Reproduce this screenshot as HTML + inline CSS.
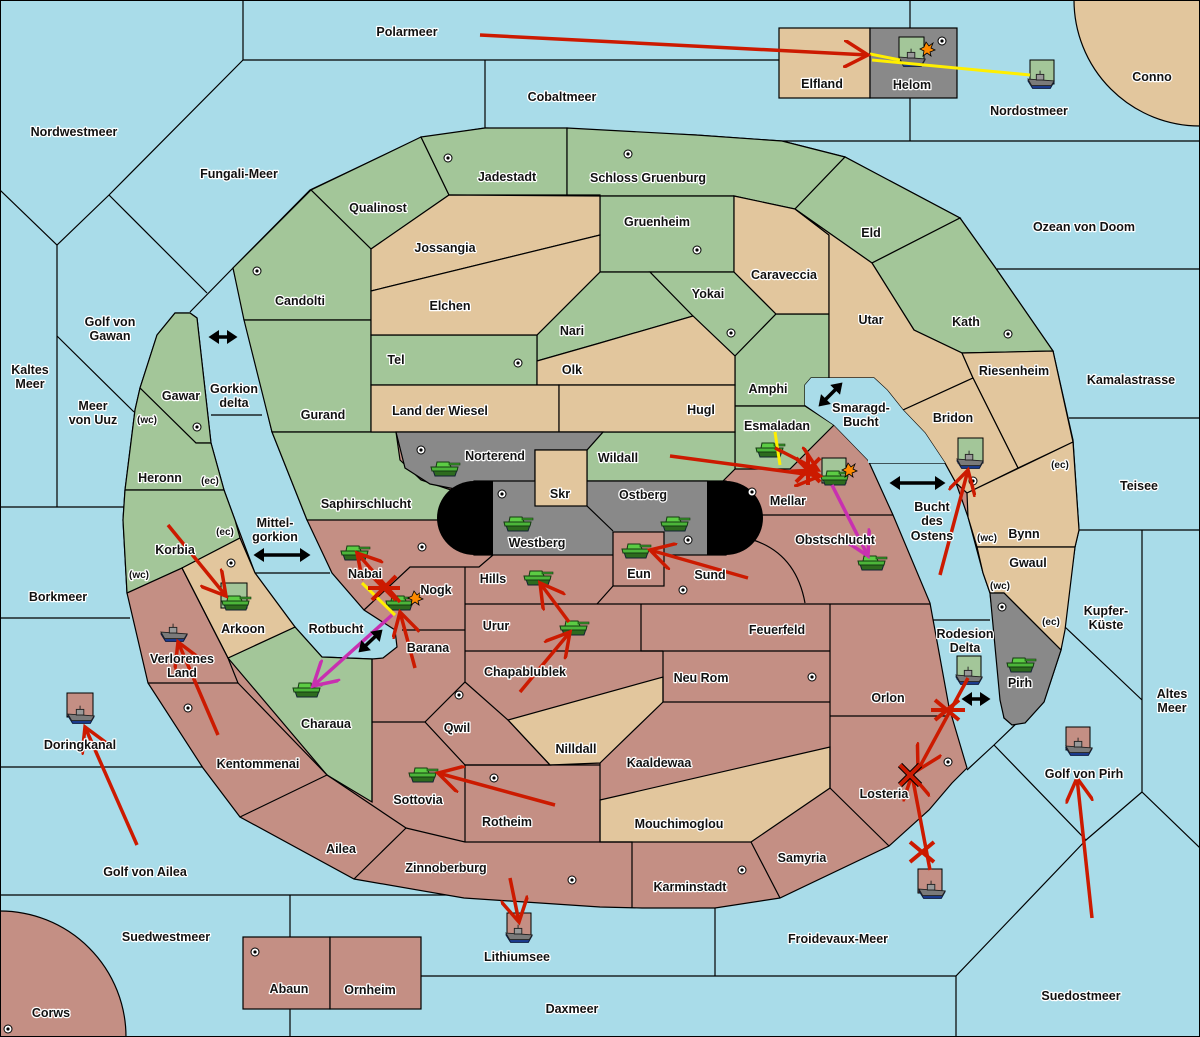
<!DOCTYPE html>
<html><head><meta charset="utf-8"><style>
html,body{margin:0;padding:0;background:#a9dce9;width:1200px;height:1037px;overflow:hidden}
svg{display:block}
text{font-family:"Liberation Sans",sans-serif;font-weight:bold;font-size:12.5px;fill:#111;stroke:#fff;stroke-width:2.5px;paint-order:stroke;stroke-linejoin:round;text-anchor:middle}
.l{fill:none;stroke:#000;stroke-width:1.2}
.g{fill:#a3c699;stroke:#000;stroke-width:1.2}
.t{fill:#e2c69d;stroke:#000;stroke-width:1.2}
.r{fill:#c48f84;stroke:#000;stroke-width:1.2}
.y{fill:#898989;stroke:#000;stroke-width:1.2}
.s{fill:#a9dce9;stroke:#000;stroke-width:1.2}
.ar{stroke:#cc1a00;stroke-width:3.5;fill:none;marker-end:url(#vr)}
.am{stroke:#c830b0;stroke-width:3.5;fill:none;marker-end:url(#vm)}
.ay{stroke:#ffef00;stroke-width:3;fill:none}
.ab{stroke:#000;stroke-width:3.5;fill:none;marker-end:url(#vb);marker-start:url(#vbs)}
</style></head><body>
<svg width="1200" height="1037" viewBox="0 0 1200 1037" xmlns="http://www.w3.org/2000/svg">
<defs>
<marker id="vr" markerWidth="8" markerHeight="8" refX="7" refY="4" orient="auto" markerUnits="strokeWidth"><path d="M0,0 L7,4 L0,8" fill="none" stroke="#cc1a00" stroke-width="1"/></marker>
<marker id="vm" markerWidth="8" markerHeight="8" refX="7" refY="4" orient="auto" markerUnits="strokeWidth"><path d="M0,0 L7,4 L0,8" fill="none" stroke="#c830b0" stroke-width="1"/></marker>
<marker id="vb" markerWidth="4" markerHeight="4" refX="2" refY="2" orient="auto" markerUnits="strokeWidth"><path d="M0,0 L3,2 L0,4z" fill="#000"/></marker>
<marker id="vbs" markerWidth="4" markerHeight="4" refX="1" refY="2" orient="auto" markerUnits="strokeWidth"><path d="M3,0 L0,2 L3,4z" fill="#000"/></marker>
<symbol id="tank" viewBox="0 0 30 18" overflow="visible"><path d="M3,11 L27,11 L25,17 L5,17z" fill="#2d6b1e" stroke="#123" stroke-width="1"/><path d="M1,8 L28,8 L27,12 L2,12z" fill="#4cb53a" stroke="#143a10" stroke-width="1"/><path d="M7,3 L19,3 L21,8 L6,8z" fill="#5ccc44" stroke="#143a10" stroke-width="1"/><rect x="19" y="4" width="11" height="2" fill="#3a9a2c" stroke="#143a10" stroke-width=".6"/></symbol>
<symbol id="ship" viewBox="0 0 30 20" overflow="visible"><path d="M1,11 L29,12 L25,19 L6,19z" fill="#1c3f9a" stroke="#0a1a40"/><path d="M1,9 L29,11 L26,16 L5,16z" fill="#7a7a7a" stroke="#222"/><rect x="10" y="4" width="8" height="6" fill="#999" stroke="#222"/><line x1="14" y1="0" x2="14" y2="4" stroke="#222"/></symbol>
</defs>
<rect width="1200" height="1037" fill="#a9dce9"/>
<g class="l">
<polyline points="243,0 243,60 779,60"/><line x1="485" y1="60" x2="485" y2="128"/>
<polyline points="243,60 109,195 57,245 0,190"/><line x1="57" y1="245" x2="57" y2="507"/><line x1="0" y1="507" x2="125" y2="507"/>
<line x1="109" y1="195" x2="207" y2="293"/><line x1="57" y1="336" x2="134" y2="412"/><polyline points="233,268 190,312"/>
<line x1="910" y1="0" x2="910" y2="28"/><polyline points="910,98 910,141"/><line x1="782" y1="141" x2="1200" y2="141"/>
<line x1="997" y1="269" x2="1200" y2="269"/><line x1="1069" y1="418" x2="1200" y2="418"/><line x1="1078" y1="530" x2="1200" y2="530"/>
<line x1="1142" y1="530" x2="1142" y2="792"/><polyline points="1065,627 1142,700"/><polyline points="1142,792 1200,848"/>
<polyline points="1020,720 994,745 967,770"/><polyline points="994,745 1086,840 1142,792"/><polyline points="1086,840 956,976 956,1037"/>
<line x1="715" y1="908" x2="715" y2="976"/><line x1="421" y1="976" x2="956" y2="976"/>
<line x1="933" y1="620" x2="990" y2="620"/><line x1="868" y1="463" x2="945" y2="463"/>
<line x1="0" y1="618" x2="130" y2="618"/><line x1="0" y1="767" x2="203" y2="767"/><line x1="0" y1="895" x2="470" y2="895"/>
<line x1="290" y1="895" x2="290" y2="937"/><line x1="290" y1="1009" x2="290" y2="1037"/><line x1="255" y1="573" x2="330" y2="573"/><line x1="211" y1="415" x2="262" y2="415"/>
</g>
<circle cx="1200" cy="0" r="126" class="t"/>
<circle cx="0" cy="1037" r="126" class="r"/>
<rect x="779" y="28" width="91" height="70" class="t"/><rect x="870" y="28" width="87" height="70" class="y"/>
<rect x="243" y="937" width="87" height="72" class="r"/><rect x="330" y="937" width="91" height="72" class="r"/>
<path class="r" d="M233,268 L310,190 L420,138 L485,128 L600,131 L696,135 L782,141 L845,157 L960,218 L997,270 L1053,351 L1073,440 L1079,530 L1075,547 L1061,650 L1044,702 L1025,723 L1004,718 L990,593 L983,573 L968,517 L956,483 L945,463 L925,433 L903,410 L887,390 L874,378 L811,378 L805,385 L805,405 L834,425 L868,460 L893,515 L930,603 L949,707 L967,768 L952,783 L929,810 L889,846 L780,898 L715,908 L642,908 L600,907 L464,898 L354,879 L240,817 L203,768 L148,683 L127,593 L123,520 L125,490 L135,410 L140,388 L157,335 L175,313 L190,313 L197,318 L211,443 L224,490 L235,520 L255,573 L295,627 L322,657 L372,659 L383,658 L397,647 L395,630 L364,610 L332,573 L307,520 L272,432 Z"/>
<path class="g" d="M311,190 L421,137 L449,195 L371,249 Z"/>
<path class="g" d="M421,137 L485,128 L567,128 L567,195 L449,195 Z"/>
<path class="g" d="M567,128 L696,135 L782,141 L845,157 L795,209 L734,196 L600,196 L600,195 L567,195 Z"/>
<path class="g" d="M600,196 L734,196 L734,272 L600,272 Z"/>
<path class="g" d="M845,157 L960,218 L872,263 L795,209 Z"/>
<path class="g" d="M960,218 L997,270 L1053,351 L962,353 L914,330 L872,263 Z"/>
<path class="g" d="M233,268 L311,190 L371,249 L371,320 L244,320 Z"/>
<path class="g" d="M244,320 L371,320 L371,432 L272,432 Z"/>
<path class="g" d="M272,432 L396,432 L400,460 L421,480 L460,493 L455,520 L307,520 Z"/>
<path class="g" d="M537,335 L600,272 L650,272 L693,316 L600,343 L537,361 Z"/>
<path class="g" d="M650,272 L734,272 L776,314 L735,356 L693,316 Z"/>
<path class="g" d="M371,335 L537,335 L537,385 L371,385 Z"/>
<path class="g" d="M735,356 L776,314 L829,314 L829,378 L811,378 L805,385 L805,406 L735,406 Z"/>
<path class="g" d="M735,406 L805,406 L834,425 L790,469 L735,469 Z"/>
<path class="g" d="M603,432 L735,432 L735,469 L722,482 L707,481 L587,481 L587,450 Z"/>
<path class="g" d="M175,313 L190,313 L197,318 L211,443 L196,443 L140,388 L157,335 Z"/>
<path class="g" d="M140,388 L196,443 L211,443 L224,490 L125,490 L135,410 Z"/>
<path class="g" d="M125,490 L224,490 L235,520 L240,538 L182,568 L127,593 L123,520 Z"/>
<path class="g" d="M228,658 L295,627 L322,657 L372,659 L372,802 L327,775 Z"/>
<path class="t" d="M371,249 L449,195 L600,196 L600,235 L371,291 Z"/>
<path class="t" d="M371,291 L600,235 L600,272 L537,335 L371,335 Z"/>
<path class="t" d="M537,361 L600,343 L693,316 L735,356 L735,385 L537,385 Z"/>
<path class="t" d="M734,196 L795,209 L829,235 L829,314 L776,314 L734,272 Z"/>
<path class="t" d="M795,209 L872,263 L914,330 L962,353 L973,378 L903,410 L887,390 L874,378 L829,378 L829,235 Z"/>
<path class="t" d="M962,353 L1053,351 L1073,442 L1018,468 L973,378 Z"/>
<path class="t" d="M903,410 L973,378 L1018,468 L967,493 L956,483 L945,463 L925,433 Z"/>
<path class="t" d="M967,493 L1073,442 L1079,530 L1075,547 L977,547 L968,517 Z"/>
<path class="t" d="M977,547 L1075,547 L1065,630 L1061,650 L1004,593 L990,593 L983,573 Z"/>
<path class="t" d="M371,385 L559,385 L559,432 L371,432 Z"/>
<path class="t" d="M559,385 L735,385 L735,432 L559,432 Z"/>
<path class="t" d="M182,568 L240,538 L255,573 L295,627 L228,658 Z"/>
<path class="t" d="M508,720 L663,677 L663,702 L600,763 L550,765 Z"/>
<path class="t" d="M600,800 L830,747 L830,788 L751,842 L600,842 Z"/>
<g class="l">
<polyline points="127,593 182,568 228,658 238,683 148,683"/><polyline points="238,683 327,775 240,817"/><polyline points="327,775 406,828 354,879"/>
<polyline points="406,828 465,842 632,842 632,908"/><polyline points="372,659 372,802"/><polyline points="372,722 425,722 465,765 465,842"/>
<polyline points="425,722 465,682 508,720 550,765 465,765"/><line x1="465" y1="765" x2="600" y2="765"/><polyline points="600,763 600,842"/>
<polyline points="663,702 830,702"/><polyline points="663,651 663,702"/><polyline points="641,604 641,651 830,651"/><polyline points="465,651 663,651"/>
<polyline points="465,567 465,682"/><polyline points="465,604 930,604"/><polyline points="402,630 465,630"/><polyline points="364,610 410,567 479,567 493,555"/>
<polyline points="830,604 830,788"/><polyline points="830,716 949,716"/><polyline points="751,842 780,898"/><polyline points="830,788 889,846"/>
<polyline points="745,515 893,515"/><path d="M742,537 Q795,548 805,603"/><polyline points="597,604 613,586"/>
</g>
<path class="y" d="M396,432 L603,432 L587,450 L535,450 L535,481 L493,482 L470,492 L430,484 L405,468 Z"/>
<rect x="474" y="481" width="252" height="74" class="y"/>
<path d="M493,481 L474,481 A37,37 0 0 0 474,555 L493,555 Z" fill="#000"/>
<path d="M707,481 L726,481 A37,37 0 0 1 726,555 L707,555 Z" fill="#000"/>
<line class="l" x1="587" y1="506" x2="613" y2="531"/>
<rect x="613" y="532" width="51" height="54" class="r"/>
<rect x="535" y="450" width="52" height="56" class="t"/>
<path class="y" d="M990,593 L1004,593 L1061,650 L1044,702 L1025,723 L1012,725 L1004,718 L1000,700 Z"/>
<path class="s" d="M805,405 L805,385 L811,378 L874,378 L887,390 L903,410 L925,433 L945,463 L868,463 L868,460 L834,425 Z" style="stroke:none"/>
<g fill="#fff" stroke="#000" stroke-width="1">
<circle cx="448" cy="158" r="4"/><circle cx="628" cy="154" r="4"/><circle cx="257" cy="271" r="4"/><circle cx="697" cy="250" r="4"/><circle cx="731" cy="333" r="4"/><circle cx="1008" cy="334" r="4"/><circle cx="518" cy="363" r="4"/><circle cx="197" cy="427" r="4"/><circle cx="421" cy="450" r="4"/><circle cx="502" cy="494" r="4"/><circle cx="752" cy="492" r="4"/><circle cx="973" cy="481" r="4"/><circle cx="231" cy="563" r="4"/><circle cx="422" cy="547" r="4"/><circle cx="688" cy="540" r="4"/><circle cx="683" cy="590" r="4"/><circle cx="1002" cy="607" r="4"/><circle cx="459" cy="695" r="4"/><circle cx="188" cy="708" r="4"/><circle cx="812" cy="677" r="4"/><circle cx="494" cy="778" r="4"/><circle cx="948" cy="762" r="4"/><circle cx="742" cy="870" r="4"/><circle cx="572" cy="880" r="4"/><circle cx="255" cy="952" r="4"/><circle cx="942" cy="41" r="4"/><circle cx="8" cy="1029" r="4"/>
</g>
<g fill="#000"><circle cx="448" cy="158" r="1.6"/><circle cx="628" cy="154" r="1.6"/><circle cx="257" cy="271" r="1.6"/><circle cx="697" cy="250" r="1.6"/><circle cx="731" cy="333" r="1.6"/><circle cx="1008" cy="334" r="1.6"/><circle cx="518" cy="363" r="1.6"/><circle cx="197" cy="427" r="1.6"/><circle cx="421" cy="450" r="1.6"/><circle cx="502" cy="494" r="1.6"/><circle cx="752" cy="492" r="1.6"/><circle cx="973" cy="481" r="1.6"/><circle cx="231" cy="563" r="1.6"/><circle cx="422" cy="547" r="1.6"/><circle cx="688" cy="540" r="1.6"/><circle cx="683" cy="590" r="1.6"/><circle cx="1002" cy="607" r="1.6"/><circle cx="459" cy="695" r="1.6"/><circle cx="188" cy="708" r="1.6"/><circle cx="812" cy="677" r="1.6"/><circle cx="494" cy="778" r="1.6"/><circle cx="948" cy="762" r="1.6"/><circle cx="742" cy="870" r="1.6"/><circle cx="572" cy="880" r="1.6"/><circle cx="255" cy="952" r="1.6"/><circle cx="942" cy="41" r="1.6"/><circle cx="8" cy="1029" r="1.6"/></g>
<g stroke="#000" stroke-width="1">
<rect x="899" y="37" width="25" height="24" fill="#a3c699"/><rect x="1030" y="60" width="24" height="24" fill="#a3c699"/><rect x="221" y="583" width="26" height="25" fill="#a3c699"/><rect x="822" y="458" width="24" height="25" fill="#a3c699"/><rect x="958" y="438" width="25" height="25" fill="#a3c699"/><rect x="957" y="656" width="24" height="23" fill="#a3c699"/>
<rect x="67" y="693" width="26" height="24" fill="#c48f84"/><rect x="1066" y="727" width="24" height="23" fill="#c48f84"/><rect x="507" y="913" width="24" height="23" fill="#c48f84"/><rect x="918" y="869" width="24" height="24" fill="#c48f84"/>
</g>
<g>
<use href="#tank" x="430" y="459" width="30" height="18"/><use href="#tank" x="503" y="514" width="30" height="18"/><use href="#tank" x="660" y="514" width="30" height="18"/><use href="#tank" x="621" y="541" width="30" height="18"/><use href="#tank" x="523" y="568" width="30" height="18"/><use href="#tank" x="559" y="618" width="30" height="18"/><use href="#tank" x="340" y="543" width="30" height="18"/><use href="#tank" x="385" y="593" width="30" height="18"/><use href="#tank" x="221" y="593" width="30" height="18"/><use href="#tank" x="292" y="680" width="30" height="18"/><use href="#tank" x="408" y="765" width="30" height="18"/><use href="#tank" x="755" y="440" width="30" height="18"/><use href="#tank" x="820" y="468" width="30" height="18"/><use href="#tank" x="857" y="553" width="30" height="18"/><use href="#tank" x="1006" y="655" width="30" height="18"/>
<use href="#ship" x="160" y="623" width="28" height="20"/><use href="#ship" x="67" y="705" width="28" height="20"/><use href="#ship" x="898" y="48" width="28" height="20"/><use href="#ship" x="1027" y="70" width="28" height="20"/><use href="#ship" x="956" y="450" width="28" height="20"/><use href="#ship" x="955" y="666" width="28" height="20"/><use href="#ship" x="1065" y="737" width="28" height="20"/><use href="#ship" x="505" y="924" width="28" height="20"/><use href="#ship" x="918" y="880" width="28" height="20"/>
</g>
<g fill="#ff8a00" stroke="#000" stroke-width=".8"><polygon points="926,42 929,46 933,43 931,48 935,50 930,52 931,56 927,53 923,56 924,51 920,49 924,47"/><polygon points="848,463 851,467 855,464 853,469 857,471 852,473 853,477 849,474 845,477 846,472 842,470 846,468"/><polygon points="414,591 417,595 421,592 419,597 423,599 418,601 419,605 415,602 411,605 412,600 408,598 412,596"/></g>
<g>
<line class="ay" x1="1030" y1="75" x2="872" y2="60"/><line class="ay" x1="900" y1="60" x2="870" y2="54"/><line class="ay" x1="775" y1="432" x2="780" y2="465"/><line class="ay" x1="362" y1="583" x2="395" y2="615"/>
<line class="ar" x1="480" y1="35" x2="868" y2="55"/>
<line class="ar" x1="670" y1="456" x2="820" y2="476"/><line class="ar" x1="775" y1="448" x2="818" y2="470"/>
<line class="ar" x1="168" y1="525" x2="226" y2="596"/><line class="ar" x1="218" y1="735" x2="178" y2="642"/><line class="ar" x1="137" y1="845" x2="85" y2="727"/>
<line class="ar" x1="555" y1="805" x2="438" y2="773"/><line class="ar" x1="520" y1="692" x2="570" y2="632"/><line class="ar" x1="569" y1="622" x2="540" y2="583"/>
<line class="ar" x1="748" y1="578" x2="650" y2="550"/><line class="ar" x1="415" y1="668" x2="400" y2="612"/><line class="ar" x1="400" y1="602" x2="357" y2="553"/>
<line class="ar" x1="940" y1="575" x2="968" y2="470"/><line class="ar" x1="968" y1="678" x2="918" y2="770"/><line class="ar" x1="930" y1="870" x2="912" y2="775"/>
<line class="ar" x1="1092" y1="918" x2="1077" y2="778"/><line class="ar" x1="510" y1="878" x2="519" y2="922"/>
<line class="am" x1="832" y1="485" x2="868" y2="556"/><line class="am" x1="392" y1="615" x2="313" y2="686"/>
<line class="ab" x1="212" y1="337" x2="234" y2="337"/><line class="ab" x1="257" y1="555" x2="307" y2="555"/><line class="ab" x1="361" y1="650" x2="380" y2="632"/><line class="ab" x1="821" y1="404" x2="840" y2="385"/><line class="ab" x1="893" y1="483" x2="942" y2="483"/><line class="ab" x1="965" y1="699" x2="987" y2="699"/>
</g>
<g stroke="#cc1a00" stroke-width="4"><path d="M372,576 L396,600 M396,576 L372,600 M368,588 L400,588"/><path d="M796,458 L820,482 M820,458 L796,482 M808,455 L808,485"/><path d="M935,700 L959,720 M935,720 L959,700 M931,710 L965,710"/><path d="M910,842 L934,862 M910,862 L934,842"/></g>
<path d="M900,765 L920,785 M920,765 L900,785" stroke="#000" stroke-width="6"/><path d="M900,765 L920,785 M920,765 L900,785" stroke="#cc1a00" stroke-width="4"/>
<text x="407" y="36">Polarmeer</text><text x="562" y="101">Cobaltmeer</text><text x="74" y="136">Nordwestmeer</text><text x="239" y="178">Fungali-Meer</text>
<text x="507" y="181">Jadestadt</text><text x="648" y="182">Schloss Gruenburg</text><text x="378" y="212">Qualinost</text><text x="445" y="252">Jossangia</text>
<text x="657" y="226">Gruenheim</text><text x="871" y="237">Eld</text><text x="1084" y="231">Ozean von Doom</text><text x="784" y="279">Caraveccia</text>
<text x="708" y="298">Yokai</text><text x="300" y="305">Candolti</text><text x="450" y="310">Elchen</text><text x="572" y="335">Nari</text>
<text x="871" y="324">Utar</text><text x="966" y="326">Kath</text><text x="110" y="326">Golf von</text><text x="110" y="340">Gawan</text>
<text x="396" y="364">Tel</text><text x="572" y="374">Olk</text><text x="1014" y="375">Riesenheim</text><text x="1131" y="384">Kamalastrasse</text>
<text x="30" y="374">Kaltes</text><text x="30" y="388">Meer</text><text x="768" y="393">Amphi</text><text x="181" y="400">Gawar</text>
<text x="234" y="393">Gorkion</text><text x="234" y="407">delta</text><text x="93" y="410">Meer</text><text x="93" y="424">von Uuz</text>
<text x="147" y="423" style="font-size:10px">(wc)</text><text x="323" y="419">Gurand</text><text x="440" y="415">Land der Wiesel</text><text x="701" y="414">Hugl</text>
<text x="861" y="412">Smaragd-</text><text x="861" y="426">Bucht</text><text x="953" y="422">Bridon</text><text x="777" y="430">Esmaladan</text>
<text x="495" y="460">Norterend</text><text x="618" y="462">Wildall</text><text x="160" y="482">Heronn</text><text x="210" y="484" style="font-size:10px">(ec)</text>
<text x="1060" y="468" style="font-size:10px">(ec)</text><text x="1139" y="490">Teisee</text><text x="560" y="498">Skr</text><text x="643" y="499">Ostberg</text>
<text x="788" y="505">Mellar</text><text x="366" y="508">Saphirschlucht</text><text x="932" y="511">Bucht</text><text x="932" y="525">des</text><text x="932" y="540">Ostens</text>
<text x="275" y="527">Mittel-</text><text x="275" y="541">gorkion</text><text x="225" y="535" style="font-size:10px">(ec)</text><text x="1024" y="538">Bynn</text>
<text x="987" y="541" style="font-size:10px">(wc)</text><text x="537" y="547">Westberg</text><text x="835" y="544">Obstschlucht</text><text x="175" y="554">Korbia</text>
<text x="139" y="578" style="font-size:10px">(wc)</text><text x="1028" y="567">Gwaul</text><text x="365" y="578">Nabai</text><text x="639" y="578">Eun</text>
<text x="710" y="579">Sund</text><text x="493" y="583">Hills</text><text x="436" y="594">Nogk</text><text x="1000" y="589" style="font-size:10px">(wc)</text>
<text x="58" y="601">Borkmeer</text><text x="1106" y="615">Kupfer-</text><text x="1106" y="629">Küste</text><text x="496" y="630">Urur</text>
<text x="777" y="634">Feuerfeld</text><text x="243" y="633">Arkoon</text><text x="336" y="633">Rotbucht</text><text x="1051" y="625" style="font-size:10px">(ec)</text>
<text x="965" y="638">Rodesion</text><text x="965" y="652">Delta</text><text x="428" y="652">Barana</text><text x="182" y="663">Verlorenes</text><text x="182" y="677">Land</text>
<text x="525" y="676">Chapablublek</text><text x="701" y="682">Neu Rom</text><text x="1020" y="687">Pirh</text><text x="888" y="702">Orlon</text>
<text x="1172" y="698">Altes</text><text x="1172" y="712">Meer</text><text x="326" y="728">Charaua</text><text x="457" y="732">Qwil</text>
<text x="80" y="749">Doringkanal</text><text x="576" y="753">Nilldall</text><text x="659" y="767">Kaaldewaa</text><text x="258" y="768">Kentommenai</text>
<text x="1084" y="778">Golf von Pirh</text><text x="884" y="798">Losteria</text><text x="418" y="804">Sottovia</text><text x="507" y="826">Rotheim</text>
<text x="679" y="828">Mouchimoglou</text><text x="341" y="853">Ailea</text><text x="802" y="862">Samyria</text><text x="446" y="872">Zinnoberburg</text>
<text x="145" y="876">Golf von Ailea</text><text x="690" y="891">Karminstadt</text><text x="166" y="941">Suedwestmeer</text><text x="838" y="943">Froidevaux-Meer</text>
<text x="517" y="961">Lithiumsee</text><text x="289" y="993">Abaun</text><text x="370" y="994">Ornheim</text><text x="1081" y="1000">Suedostmeer</text>
<text x="572" y="1013">Daxmeer</text><text x="51" y="1017">Corws</text><text x="1029" y="115">Nordostmeer</text><text x="1152" y="81">Conno</text>
<text x="822" y="88">Elfland</text><text x="912" y="89">Helom</text>
<rect x="0.5" y="0.5" width="1199" height="1036" fill="none" stroke="#000" stroke-width="1"/>
</svg>
</body></html>
